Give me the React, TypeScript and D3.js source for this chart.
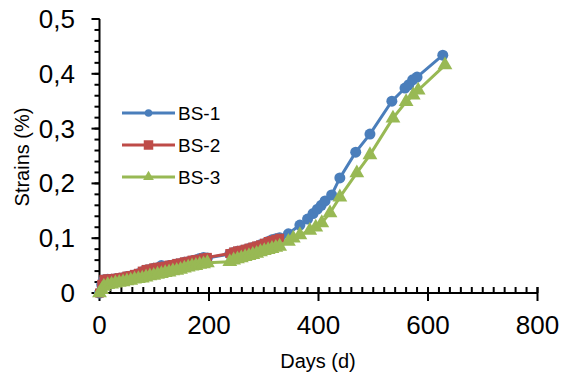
import React from "react";
import * as d3 from "d3";

// days (d) and strains (%)
const days1 = [0, 4, 8, 15, 22, 29, 36, 43, 50, 57, 64, 71, 78, 85, 92, 99, 106, 113, 120, 127, 134, 141, 148, 155, 162, 169, 176, 183, 190, 197, 238, 245, 252, 259, 266, 273, 280, 287, 294, 301, 308, 315, 322, 329, 345, 366, 380, 390, 398, 405, 412, 424, 439, 468, 494, 534, 558, 565, 572, 580, 627];
const strain1 = [0, 0.015, 0.024, 0.025, 0.025, 0.026, 0.027, 0.028, 0.03, 0.031, 0.033, 0.035, 0.039, 0.042, 0.043, 0.045, 0.046, 0.05, 0.048, 0.05, 0.051, 0.053, 0.054, 0.056, 0.057, 0.059, 0.06, 0.063, 0.065, 0.064, 0.071, 0.074, 0.076, 0.077, 0.079, 0.081, 0.083, 0.085, 0.088, 0.09, 0.094, 0.097, 0.099, 0.101, 0.108, 0.124, 0.135, 0.145, 0.153, 0.16, 0.168, 0.179, 0.21, 0.257, 0.29, 0.35, 0.374, 0.38, 0.389, 0.394, 0.434];

const days2 = [0, 4, 8, 15, 22, 29, 36, 43, 50, 57, 64, 71, 78, 85, 92, 99, 106, 113, 120, 127, 134, 141, 148, 155, 162, 169, 176, 183, 190, 197, 238, 245, 252, 259, 266, 273, 280, 287, 294, 301, 308, 315, 322, 329];
const strain2 = [0, 0.016, 0.025, 0.026, 0.026, 0.027, 0.028, 0.029, 0.031, 0.032, 0.034, 0.036, 0.04, 0.043, 0.044, 0.046, 0.047, 0.048, 0.049, 0.051, 0.052, 0.054, 0.055, 0.057, 0.058, 0.06, 0.061, 0.062, 0.064, 0.065, 0.072, 0.075, 0.077, 0.078, 0.08, 0.082, 0.084, 0.086, 0.088, 0.091, 0.094, 0.096, 0.098, 0.1];

const days3 = [0, 4, 8, 15, 22, 29, 36, 43, 50, 57, 64, 71, 78, 85, 92, 99, 106, 113, 120, 127, 134, 141, 148, 155, 162, 169, 176, 183, 190, 197, 238, 245, 252, 259, 266, 273, 280, 287, 294, 301, 308, 315, 322, 329, 345, 354, 366, 384, 395, 406, 421, 439, 470, 494, 536, 560, 573, 582, 631];
const strain3 = [0, 0.006, 0.012, 0.015, 0.016, 0.018, 0.019, 0.02, 0.022, 0.023, 0.025, 0.026, 0.027, 0.029, 0.031, 0.032, 0.034, 0.035, 0.037, 0.038, 0.04, 0.041, 0.043, 0.045, 0.047, 0.049, 0.05, 0.052, 0.053, 0.055, 0.057, 0.06, 0.062, 0.064, 0.066, 0.068, 0.07, 0.072, 0.075, 0.077, 0.079, 0.081, 0.083, 0.085, 0.094, 0.1, 0.106, 0.114, 0.12, 0.128, 0.146, 0.175, 0.219, 0.252, 0.319, 0.349, 0.361, 0.37, 0.416];

const seriesNames = ["BS-1", "BS-2", "BS-3"];
const seriesColors = ["#4A7EBB", "#BE4B48", "#98B954"];
const xTicks = [0, 200, 400, 600, 800];
const yTicks = [0, 0.1, 0.2, 0.3, 0.4, 0.5];

const W = 562;
const H = 374;
const font = "'Liberation Sans', Arial, sans-serif";

export default function App() {
  const x = d3.scaleLinear().domain([0, 800]).range([99.5, 537.5]);
  const y = d3.scaleLinear().domain([0, 0.5]).range([293, 19]);

  const series = [
    { days: days1, vals: strain1, sym: d3.symbolCircle, size: 95, legSize: 45 },
    { days: days2, vals: strain2, sym: d3.symbolSquare, size: 81, legSize: 90 },
    { days: days3, vals: strain3, sym: d3.symbolTriangle, size: 95, legSize: 50 },
  ];

  const line = d3
    .line<[number, number]>()
    .x((d) => x(d[0]))
    .y((d) => y(d[1]));

  const fmt = (v: number) => (v === 0 ? "0" : d3.format(".1f")(v).replace(".", ","));

  const xMinor = d3.range(0, 801, 20);
  const yMinor = d3.range(0, 0.501, 0.02);

  return (
    <svg width={W} height={H} style={{ position: "absolute", left: 0, top: 0, background: "#fff" }}>
      {/* axes */}
      <g stroke="#000" strokeWidth={2}>
        <line x1={x(0)} x2={x(800)} y1={y(0)} y2={y(0)} />
        <line x1={x(0)} x2={x(0)} y1={y(0)} y2={y(0.5)} />
        {xMinor.map((t) => (
          <line key={"xm" + t} x1={x(t)} x2={x(t)} y1={y(0) - 6} y2={y(0)} />
        ))}
        {xTicks.map((t) => (
          <line key={"xM" + t} x1={x(t)} x2={x(t)} y1={y(0) - 6} y2={y(0) + 8} />
        ))}
        {yMinor.map((t) => (
          <line key={"ym" + t} x1={x(0) - 5} x2={x(0)} y1={y(t)} y2={y(t)} />
        ))}
        {yTicks.map((t) => (
          <line key={"yM" + t} x1={x(0) - 8} x2={x(0)} y1={y(t)} y2={y(t)} />
        ))}
      </g>
      <g fontFamily={font} fontSize={26} fill="#000">
        {xTicks.map((t) => (
          <text key={"xl" + t} x={x(t)} y={334} textAnchor="middle">
            {t}
          </text>
        ))}
        {yTicks.map((t) => (
          <text key={"yl" + t} x={75} y={y(t) + 9} textAnchor="end">
            {fmt(t)}
          </text>
        ))}
      </g>
      <text x={318} y={368} textAnchor="middle" fontFamily={font} fontSize={20}>
        Days (d)
      </text>
      <text
        transform={`translate(29,157) rotate(-90)`}
        textAnchor="middle"
        fontFamily={font}
        fontSize={20}
      >
        Strains (%)
      </text>

      {/* series */}
      {series.map((s, i) => {
        const pts: [number, number][] = s.days.map((d, j) => [d, s.vals[j]]);
        const sym = d3.symbol().type(s.sym).size(s.size)();
        return (
          <g key={i}>
            <path d={line(pts) || ""} fill="none" stroke={seriesColors[i]} strokeWidth={3} />
            {pts.map((p, j) => (
              <path
                key={j}
                d={sym || ""}
                transform={`translate(${x(p[0])},${y(p[1])})`}
                fill={seriesColors[i]}
              />
            ))}
          </g>
        );
      })}

      {/* legend */}
      {seriesNames.map((n, i) => {
        const ly = 113 + i * 32;
        const sym = d3.symbol().type(series[i].sym).size(series[i].legSize)();
        return (
          <g key={n}>
            <line x1={122} x2={175} y1={ly} y2={ly} stroke={seriesColors[i]} strokeWidth={3} />
            <path d={sym || ""} transform={`translate(148.5,${ly})`} fill={seriesColors[i]} />
            <text x={178} y={ly + 7} fontFamily={font} fontSize={19}>
              {n}
            </text>
          </g>
        );
      })}
    </svg>
  );
}
